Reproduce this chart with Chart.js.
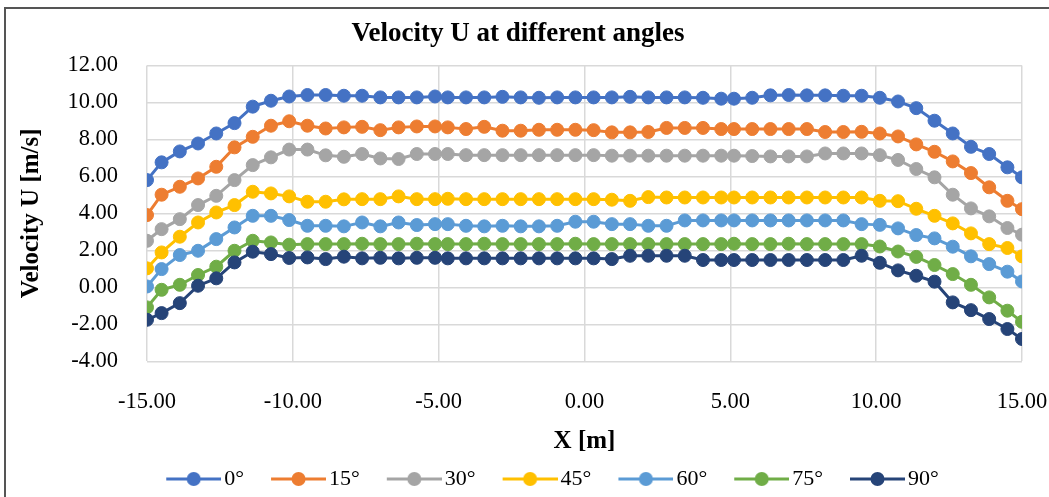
<!DOCTYPE html>
<html>
<head>
<meta charset="utf-8">
<script src="https://cdn.jsdelivr.net/npm/chart.js@4.4.1/dist/chart.umd.min.js"></script>
<style>
  html, body { margin: 0; padding: 0; background: #fff; overflow: hidden; }
  #wrap { position: absolute; left: 0; top: 0; width: 1049px; height: 497px; }
  #frame { position: absolute; left: 4px; top: 7px; width: 1100px; height: 600px;
           border: 2px solid #555; pointer-events: none; }
</style>
</head>
<body>
<div id="wrap"><canvas id="chart" width="1049" height="497"></canvas></div>
<div id="frame"></div>
<script>
// X positions of the samples [m]
const xPos = [-15, -14.5, -13.875, -13.25, -12.625, -12, -11.375, -10.75, -10.125, -9.5,
  -8.875, -8.25, -7.625, -7, -6.375, -5.75, -5.125, -4.6875, -4.0625, -3.4375,
  -2.8125, -2.1875, -1.5625, -0.9375, -0.3125, 0.3125, 0.9375, 1.5625, 2.1875, 2.8125,
  3.4375, 4.0625, 4.6875, 5.125, 5.75, 6.375, 7, 7.625, 8.25, 8.875,
  9.5, 10.125, 10.75, 11.375, 12, 12.625, 13.25, 13.875, 14.5, 15];

// Velocity U [m/s] for each angle
const u0 = [5.80, 6.76, 7.35, 7.78, 8.32, 8.88, 9.77, 10.09, 10.32, 10.40,
  10.40, 10.36, 10.36, 10.27, 10.27, 10.27, 10.32, 10.27, 10.27, 10.27,
  10.30, 10.27, 10.25, 10.27, 10.27, 10.27, 10.27, 10.30, 10.27, 10.27,
  10.27, 10.25, 10.20, 10.20, 10.25, 10.38, 10.40, 10.38, 10.38, 10.36,
  10.36, 10.25, 10.05, 9.69, 9.01, 8.32, 7.60, 7.21, 6.49, 5.95];
const u15 = [3.91, 5.01, 5.44, 5.89, 6.52, 7.57, 8.14, 8.74, 8.98, 8.74,
  8.59, 8.65, 8.68, 8.50, 8.65, 8.70, 8.70, 8.65, 8.56, 8.68,
  8.47, 8.47, 8.52, 8.52, 8.52, 8.50, 8.38, 8.38, 8.40, 8.62,
  8.62, 8.62, 8.56, 8.56, 8.56, 8.56, 8.56, 8.56, 8.40, 8.40,
  8.41, 8.32, 8.16, 7.73, 7.33, 6.81, 6.18, 5.41, 4.68, 4.23];
const u30 = [2.52, 3.15, 3.69, 4.45, 4.95, 5.80, 6.61, 7.03, 7.45, 7.45,
  7.14, 7.06, 7.21, 6.97, 6.94, 7.21, 7.21, 7.21, 7.15, 7.15,
  7.15, 7.15, 7.15, 7.15, 7.15, 7.15, 7.12, 7.12, 7.12, 7.12,
  7.12, 7.12, 7.12, 7.12, 7.10, 7.08, 7.08, 7.08, 7.24, 7.24,
  7.24, 7.15, 6.89, 6.40, 5.95, 5.01, 4.27, 3.84, 3.21, 2.85];
const u45 = [1.03, 1.89, 2.74, 3.51, 4.05, 4.45, 5.17, 5.08, 4.92, 4.63,
  4.63, 4.76, 4.77, 4.77, 4.92, 4.77, 4.77, 4.79, 4.77, 4.77,
  4.77, 4.77, 4.77, 4.77, 4.77, 4.77, 4.74, 4.68, 4.88, 4.86,
  4.86, 4.86, 4.86, 4.86, 4.86, 4.86, 4.86, 4.86, 4.86, 4.86,
  4.86, 4.68, 4.66, 4.25, 3.87, 3.46, 2.92, 2.34, 2.13, 1.68];
const u60 = [0.05, 0.99, 1.75, 1.98, 2.61, 3.24, 3.87, 3.87, 3.64, 3.33,
  3.33, 3.30, 3.51, 3.30, 3.51, 3.37, 3.42, 3.42, 3.33, 3.30,
  3.33, 3.30, 3.30, 3.33, 3.55, 3.55, 3.42, 3.42, 3.33, 3.33,
  3.62, 3.62, 3.62, 3.62, 3.62, 3.62, 3.62, 3.62, 3.62, 3.62,
  3.42, 3.38, 3.19, 2.83, 2.65, 2.20, 1.68, 1.26, 0.85, 0.32];
const u75 = [-1.08, -0.13, 0.14, 0.67, 1.12, 1.98, 2.52, 2.43, 2.31, 2.34,
  2.34, 2.34, 2.36, 2.34, 2.34, 2.36, 2.34, 2.34, 2.34, 2.36,
  2.34, 2.34, 2.34, 2.34, 2.36, 2.34, 2.34, 2.34, 2.34, 2.34,
  2.34, 2.34, 2.34, 2.36, 2.34, 2.34, 2.36, 2.34, 2.34, 2.34,
  2.34, 2.21, 1.94, 1.65, 1.21, 0.72, 0.14, -0.54, -1.26, -1.86];
const u90 = [-1.75, -1.39, -0.85, 0.09, 0.49, 1.35, 1.93, 1.80, 1.59, 1.62,
  1.53, 1.66, 1.57, 1.60, 1.57, 1.60, 1.60, 1.57, 1.57, 1.57,
  1.57, 1.57, 1.57, 1.57, 1.57, 1.57, 1.53, 1.71, 1.71, 1.71,
  1.71, 1.48, 1.48, 1.48, 1.48, 1.48, 1.48, 1.48, 1.48, 1.48,
  1.71, 1.33, 0.92, 0.63, 0.31, -0.81, -1.23, -1.71, -2.25, -2.79];

const seriesNames = ['0°', '15°', '30°', '45°', '60°', '75°', '90°'];
const seriesData = [u0, u15, u30, u45, u60, u75, u90];
const seriesColors = ['#4472C4', '#ED7D31', '#A5A5A5', '#FFC000', '#5B9BD5', '#70AD47', '#264478'];

const serif = "'Liberation Serif', 'Times New Roman', serif";

// legend marker: short line with a dot in the middle, plus a blank lead-in gap
const legendFont = 22;
const LINE = 55, GAP_TEXT = 3, LEAD = 25;
const boxW = LEAD + LINE + GAP_TEXT - legendFont / 2;
const imgW = 2 * (LEAD + LINE - boxW / 2);
const imgLeft = boxW / 2 - imgW / 2;
function legendMarker(color) {
  const c = document.createElement('canvas');
  c.width = imgW; c.height = 16;
  const g = c.getContext('2d');
  const x0 = LEAD - imgLeft;
  g.strokeStyle = color; g.lineWidth = 3;
  g.beginPath(); g.moveTo(x0, 8); g.lineTo(x0 + LINE, 8); g.stroke();
  g.fillStyle = color;
  g.beginPath(); g.arc(x0 + LINE / 2, 8, 7, 0, Math.PI * 2); g.fill();
  return c;
}
const markers = seriesColors.map(legendMarker);

// Excel puts the legend a bit right of centre and low
const legendShift = {
  id: 'legendShift',
  afterLayout(ch) {
    ch.legend.left += 22; ch.legend.right += 22;
    ch.legend.top += 3; ch.legend.bottom += 3;
  }
};

const datasets = seriesNames.map((name, i) => ({
  label: name,
  data: xPos.map((x, k) => ({ x: x, y: seriesData[i][k] })),
  showLine: true,
  borderColor: seriesColors[i],
  backgroundColor: seriesColors[i],
  borderWidth: 3,
  pointRadius: 6.5,
  pointBorderWidth: 1,
  pointHoverRadius: 6.5,
  order: seriesNames.length - i   // later series on top, like Excel
}));

const ctx = document.getElementById('chart').getContext('2d');
const chart = new Chart(ctx, {
  type: 'scatter',
  data: { datasets: datasets },
  plugins: [legendShift],
  options: {
    responsive: false,
    animation: false,
    layout: { padding: { left: 14, right: 27, top: 8, bottom: 0 } },
    plugins: {
      title: {
        display: true,
        text: 'Velocity U at different angles',
        color: '#000',
        font: { family: serif, size: 27, weight: 'bold' },
        padding: { top: 10, bottom: 15 }
      },
      legend: {
        position: 'bottom',
        labels: {
          color: '#000',
          font: { family: serif, size: legendFont },
          usePointStyle: true,
          pointStyleWidth: boxW,
          padding: 2,
          sort: (a, b) => a.datasetIndex - b.datasetIndex,
          generateLabels: (ch) => ch.data.datasets.map((ds, i) => ({
            text: ds.label,
            pointStyle: markers[i],
            fillStyle: ds.borderColor,
            strokeStyle: ds.borderColor,
            lineWidth: 0,
            fontColor: '#000',
            hidden: false,
            datasetIndex: i
          }))
        }
      },
      tooltip: { enabled: false }
    },
    scales: {
      x: {
        type: 'linear',
        min: -15, max: 15,
        afterFit: (s) => { s.height = 101.6; s.paddingLeft = 0; s.paddingRight = 0; },
        ticks: {
          stepSize: 5,
          color: '#000',
          padding: 27,
          font: { family: serif, size: 22.5 },
          callback: (v) => v.toFixed(2)
        },
        grid: { color: '#d9d9d9', lineWidth: 1.5, drawTicks: false },
        border: { display: false },
        title: {
          display: true, text: 'X [m]', color: '#000',
          font: { family: serif, size: 25, weight: 'bold' },
          padding: { top: 0, bottom: 6.4 }
        }
      },
      y: {
        type: 'linear',
        min: -4, max: 12,
        afterFit: (s) => { s.width = 133; },
        ticks: {
          stepSize: 2,
          color: '#000',
          padding: 29,
          font: { family: serif, size: 22.5 },
          callback: (v) => v.toFixed(2)
        },
        grid: { color: '#d9d9d9', lineWidth: 1.5, drawTicks: false },
        border: { display: false },
        title: {
          display: true, text: 'Velocity U [m/s]', color: '#000',
          font: { family: serif, size: 25, weight: 'bold' },
          padding: { top: 3, bottom: 0 }
        }
      }
    }
  }
});
</script>
</body>
</html>
